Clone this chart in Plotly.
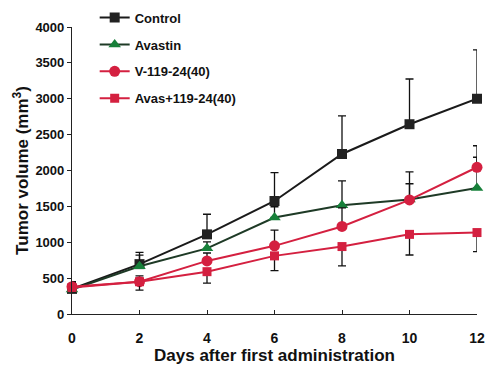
import plotly.graph_objects as go

days = [0, 2, 4, 6, 8, 10, 12]
control = [350, 695, 1110, 1575, 2230, 2645, 3000]
control_err = [100, 165, 280, 395, 530, 630, 680]
avastin = [340, 665, 915, 1345, 1515, 1595, 1755]
avastin_err = [60, 155, 90, 150, 340, 220, 430]
v119 = [380, 450, 740, 950, 1220, 1590, 2045]
v119_err = [60, 80, 110, 220, 260, 390, 300]
avas119 = [370, 450, 590, 810, 940, 1110, 1135]
avas119_err = [60, 116, 160, 205, 270, 288, 267]

x_ticks = [0, 2, 4, 6, 8, 10, 12]
y_ticks = [0, 500, 1000, 1500, 2000, 2500, 3000, 3500, 4000]

FONT = "Liberation Sans"
RED = "#d42040"

def err(plus, minus):
    return dict(type="data", symmetric=False, array=plus, arrayminus=minus,
                color="#111111", thickness=1.3, width=4)

zeros = [0] * len(days)

fig = go.Figure()
fig.add_trace(go.Scatter(
    x=days, y=control, name="Control", mode="lines+markers",
    line=dict(color="#1a1a1a", width=2),
    marker=dict(symbol="square", size=10, color="#222222"),
    error_y=err(control_err, zeros), cliponaxis=False, legendgroup="a"))
fig.add_trace(go.Scatter(
    x=days, y=avastin, name="Avastin", mode="lines+markers",
    line=dict(color="#1e3a26", width=2),
    marker=dict(symbol="triangle-up", size=11, color="#17803a"),
    error_y=err(avastin_err, zeros), cliponaxis=False, legendgroup="b"))
fig.add_trace(go.Scatter(
    x=days, y=v119, name="V-119-24(40)", mode="lines+markers",
    line=dict(color=RED, width=2),
    marker=dict(symbol="circle", size=11, color=RED),
    error_y=err(v119_err, zeros), cliponaxis=False, legendgroup="c"))
fig.add_trace(go.Scatter(
    x=days, y=avas119, name="Avas+119-24(40)", mode="lines+markers",
    line=dict(color=RED, width=2),
    marker=dict(symbol="square", size=9, color=RED),
    error_y=err(zeros, avas119_err), cliponaxis=False, legendgroup="d"))

# page body has an 8px margin, so the figure is shrunk and shifted accordingly
fig.update_layout(
    width=485, height=357,
    margin=dict(l=64, r=16, t=19, b=51, autoexpand=False),
    paper_bgcolor="white", plot_bgcolor="white",
    font=dict(family=FONT, size=13, color="#111111"),
    showlegend=True,
    legend=dict(x=0.056, y=1.085, xanchor="left", yanchor="top",
                bgcolor="rgba(0,0,0,0)", tracegroupgap=7,
                font=dict(family=FONT, size=13, color="#111111", weight="bold")),
    xaxis=dict(range=[0, 12], tickvals=x_ticks, ticktext=[str(v) for v in x_ticks],
               showgrid=False, zeroline=False, showline=True, linecolor="#222222",
               linewidth=1.2, ticks="inside", ticklen=4, tickcolor="#222222",
               ticklabelstandoff=11, ticklabeloverflow="allow", automargin=False,
               tickfont=dict(family=FONT, size=14, weight="bold"),
               title=dict(text="Days after first administration", standoff=2,
                          font=dict(family=FONT, size=17, weight="bold"))),
    yaxis=dict(range=[0, 4000], tickvals=y_ticks, ticktext=[str(v) for v in y_ticks],
               showgrid=False, zeroline=False, showline=True, linecolor="#222222",
               linewidth=1.2, ticks="outside", ticklen=4, tickcolor="#222222",
               automargin=False,
               tickfont=dict(family=FONT, size=13, weight="bold"),
               title=dict(text="Tumor volume (mm<sup>3</sup>)", standoff=2,
                          font=dict(family=FONT, size=17, weight="bold"))),
)

fig.write_html("out.html")
